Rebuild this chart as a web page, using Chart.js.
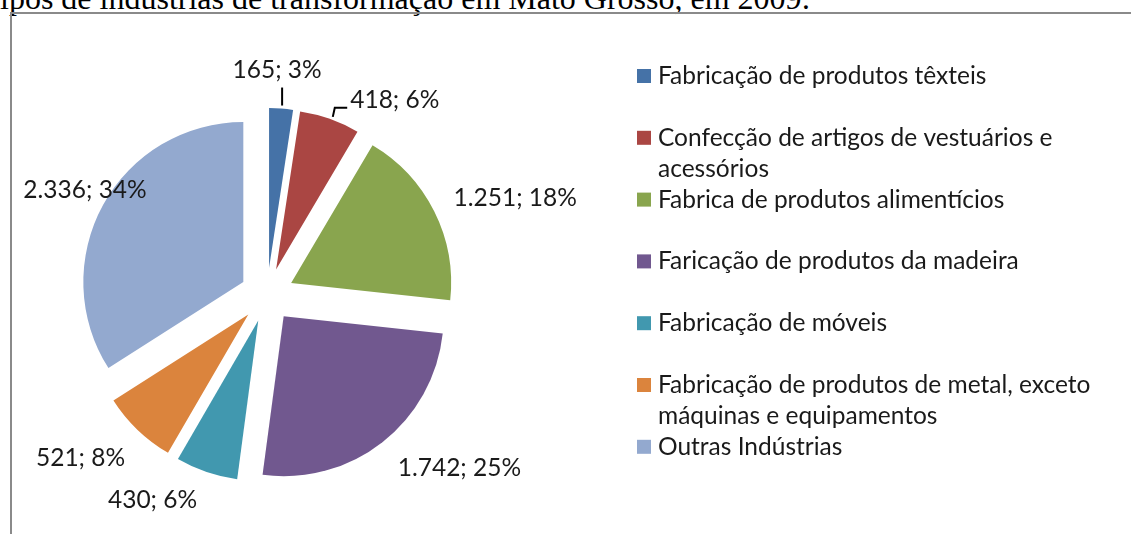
<!DOCTYPE html>
<html>
<head>
<meta charset="utf-8">
<script src="https://cdn.jsdelivr.net/npm/chart.js@4.4.0/dist/chart.umd.min.js"></script>
<style>
  body { margin: 0; background: #fff; width: 1131px; height: 534px; overflow: hidden; position: relative; }
  #titulo { position: absolute; left: 0; top: -18.5px; font-family: "Liberation Serif", serif; font-size: 32px; line-height: 32px; white-space: nowrap; color: #000; }
  #moldura { position: absolute; left: 10px; top: 12px; width: 1200px; height: 600px; border-left: 2px solid #8a8a8a; border-top: 2px solid #8a8a8a; }
  #PieChart { position: absolute; left: 0; top: 0; }
</style>
</head>
<body>
<div id="titulo">ipos de indústrias de transformação em Mato Grosso, em 2009:</div>
<div id="moldura"></div>
<canvas id="PieChart" width="1131" height="534"></canvas>
<script>
const categorias = [
  'Fabricação de produtos têxteis',
  'Confecção de artigos de vestuários e acessórios',
  'Fabrica de produtos alimentícios',
  'Faricação de produtos da madeira',
  'Fabricação de móveis',
  'Fabricação de produtos de metal, exceto máquinas e equipamentos',
  'Outras Indústrias'
];
const valores = [165, 418, 1251, 1742, 430, 521, 2336];
const percentuais = ['3%', '6%', '18%', '25%', '6%', '8%', '34%'];
const cores = ['#4572A7', '#AA4643', '#89A54E', '#71588F', '#4198AF', '#DB843D', '#93A9CF'];

// where each label sits, measured from the outer middle of its slice
const rotuloDesloc = [[-4, -38], [65, -19], [81, -13], [77, 26], [-54, 28], [-57, 28], [-18, -15]];
const afastamento = 27; // how far every slice is pulled out
const fonte = '24.5px Lato';
const corTexto = '#1a1a1a';

function formata(v) {
  return v.toString().replace(/\B(?=(\d{3})+(?!\d))/g, '.');
}

// chart.js v4 offset also grows thin slices, so pull slices out by hand
const explodirPlugin = {
  id: 'explodir',
  afterDatasetUpdate(chart, args) {
    args.meta.data.forEach(function (arc) {
      const meio = (arc.startAngle + arc.endAngle) / 2;
      arc.x += Math.cos(meio) * afastamento;
      arc.y += Math.sin(meio) * afastamento;
    });
  }
};

const rotulosPlugin = {
  id: 'rotulos',
  afterDatasetsDraw(chart) {
    const ctx = chart.ctx;
    const meta = chart.getDatasetMeta(0);
    ctx.save();
    ctx.font = fonte;
    ctx.fillStyle = corTexto;
    ctx.strokeStyle = '#000';
    ctx.lineWidth = 2;
    ctx.textAlign = 'center';
    ctx.textBaseline = 'middle';
    meta.data.forEach(function (arc, i) {
      const p = arc.getProps(['x', 'y', 'startAngle', 'endAngle', 'outerRadius'], true);
      const meio = (p.startAngle + p.endAngle) / 2;
      const mx = p.x + Math.cos(meio) * p.outerRadius;
      const my = p.y + Math.sin(meio) * p.outerRadius;
      const lx = mx + rotuloDesloc[i][0];
      const ly = my + rotuloDesloc[i][1];
      const txt = formata(chart.data.datasets[0].data[i]) + '; ' + percentuais[i];
      ctx.fillText(txt, lx, ly);
      // leader lines for the two thin slices
      if (i === 0) {
        ctx.beginPath();
        ctx.moveTo(mx + 1, my - 3);
        ctx.lineTo(mx + 1, ly + 17);
        ctx.stroke();
      } else if (i === 1) {
        const w = ctx.measureText(txt).width;
        ctx.beginPath();
        ctx.moveTo(mx + 3, my - 2);
        ctx.lineTo(mx + 5, ly + 8);
        ctx.lineTo(lx - w / 2 - 3, ly + 8);
        ctx.stroke();
      }
    });
    ctx.restore();
  }
};

const legendaPlugin = {
  id: 'legendaLateral',
  afterDraw(chart) {
    const ctx = chart.ctx;
    const ds = chart.data.datasets[0];
    ctx.save();
    ctx.font = fonte;
    ctx.textBaseline = 'middle';
    ctx.textAlign = 'left';
    chart.data.labels.forEach(function (txt, i) {
      const y = 76 + i * 61.8;
      ctx.fillStyle = ds.backgroundColor[i];
      ctx.fillRect(637, y - 7, 14, 14);
      ctx.fillStyle = corTexto;
      // wrap like the original legend
      const palavras = txt.split(' ');
      let linha = '';
      let ly = y;
      palavras.forEach(function (p) {
        const teste = linha ? linha + ' ' + p : p;
        if (ctx.measureText(teste).width > 458 && linha) {
          ctx.fillText(linha, 658, ly);
          linha = p;
          ly += 31;
        } else {
          linha = teste;
        }
      });
      ctx.fillText(linha, 658, ly);
    });
    ctx.restore();
  }
};

let PieChart = document.getElementById('PieChart').getContext('2d');

const PieChartv = new Chart(PieChart, {
  type: 'pie',
  data: {
    labels: categorias,
    datasets: [{
      data: valores,
      backgroundColor: cores,
      borderWidth: 0,
      radius: 160,
    }]
  },
  options: {
    responsive: false,
    animation: false,
    events: [],
    layout: {
      padding: { left: 20, right: 617, top: 56, bottom: 0 },
    },
    plugins: {
      legend: { display: false },
      tooltip: { enabled: false },
    },
  },
  plugins: [explodirPlugin, rotulosPlugin, legendaPlugin],
});
</script>
</body>
</html>
